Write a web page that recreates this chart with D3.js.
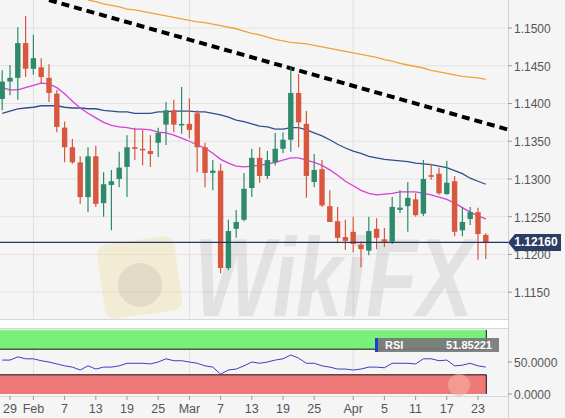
<!DOCTYPE html>
<html><head><meta charset="utf-8">
<script src="https://cdn.jsdelivr.net/npm/d3@7"></script>
<style>html,body{margin:0;padding:0;background:#f5f5f5;}svg{display:block;font-family:"Liberation Sans",Arial,sans-serif;}</style>
</head><body><svg id="c" width="565" height="418"></svg>
<script>
const dates = ["2019-01-28","2019-01-29","2019-01-30","2019-01-31",
"2019-02-01","2019-02-04","2019-02-05","2019-02-06","2019-02-07","2019-02-08","2019-02-11","2019-02-12","2019-02-13","2019-02-14","2019-02-15","2019-02-18","2019-02-19","2019-02-20","2019-02-21","2019-02-22","2019-02-25","2019-02-26","2019-02-27","2019-02-28",
"2019-03-01","2019-03-04","2019-03-05","2019-03-06","2019-03-07","2019-03-08","2019-03-11","2019-03-12","2019-03-13","2019-03-14","2019-03-15","2019-03-18","2019-03-19","2019-03-20","2019-03-21","2019-03-22","2019-03-25","2019-03-26","2019-03-27","2019-03-28","2019-03-29",
"2019-04-01","2019-04-02","2019-04-03","2019-04-04","2019-04-05","2019-04-08","2019-04-09","2019-04-10","2019-04-11","2019-04-12","2019-04-15","2019-04-16","2019-04-17","2019-04-18","2019-04-19","2019-04-22","2019-04-23","2019-04-24"];

const open = [1.1406,1.1429,1.1434,1.1480,1.1446,1.1448,1.1434,1.1413,1.1368,1.1342,
1.1322,1.1276,1.1330,1.1268,1.1292,1.1300,1.1316,1.1342,1.1340,1.1337,
1.1348,1.1372,1.1391,1.1372,1.1373,1.1387,1.1342,1.1308,1.1311,1.1182,
1.1234,1.1246,1.1288,1.1328,1.1304,1.1322,1.1340,1.1352,1.1414,1.1373,
1.1296,1.1313,1.1264,1.1244,1.1223,1.1230,1.1213,1.1205,1.1234,1.1220,
1.1217,1.1259,1.1264,1.1273,1.1254,1.1305,1.1307,1.1280,1.1297,1.1232,
1.1247,1.1256,1.1226];
const high = [1.1444,1.1451,1.1501,1.1516,1.1491,1.1460,1.1452,1.1418,1.1376,1.1353,
1.1330,1.1342,1.1344,1.1309,1.1312,1.1336,1.1358,1.1368,1.1365,1.1358,
1.1368,1.1402,1.1405,1.1422,1.1407,1.1391,1.1348,1.1325,1.1320,1.1246,
1.1259,1.1308,1.1340,1.1342,1.1337,1.1361,1.1362,1.1448,1.1439,1.1390,
1.1333,1.1325,1.1285,1.1263,1.1246,1.1250,1.1217,1.1250,1.1248,1.1235,
1.1276,1.1285,1.1296,1.1281,1.1325,1.1320,1.1315,1.1324,1.1304,1.1263,
1.1263,1.1262,1.1228];
const low = [1.1391,1.1411,1.1405,1.1435,1.1438,1.1426,1.1402,1.1362,1.1322,1.1320,
1.1267,1.1256,1.1263,1.1250,1.1232,1.1289,1.1276,1.1325,1.1318,1.1316,
1.1329,1.1345,1.1362,1.1360,1.1354,1.1309,1.1289,1.1285,1.1175,1.1179,
1.1222,1.1244,1.1276,1.1295,1.1300,1.1318,1.1334,1.1336,1.1342,1.1275,
1.1289,1.1263,1.1243,1.1215,1.1206,1.1203,1.1183,1.1199,1.1207,1.1210,
1.1214,1.1255,1.1230,1.1250,1.1251,1.1299,1.1279,1.1279,1.1224,1.1224,
1.1239,1.1193,1.1194];
const close = [1.1429,1.1434,1.1480,1.1446,1.1460,1.1435,1.1414,1.1369,1.1342,1.1322,
1.1276,1.1330,1.1267,1.1293,1.1297,1.1315,1.1342,1.1340,1.1338,1.1333,
1.1361,1.1391,1.1372,1.1373,1.1365,1.1342,1.1308,1.1311,1.1182,1.1231,
1.1243,1.1287,1.1328,1.1304,1.1325,1.1340,1.1352,1.1414,1.1375,1.1304,
1.1312,1.1265,1.1243,1.1222,1.1218,1.1214,1.1207,1.1231,1.1222,1.1217,
1.1263,1.1262,1.1275,1.1252,1.1300,1.1303,1.1281,1.1295,1.1230,1.1243,
1.1256,1.1227,1.1216];

const smaFast = [1.1421,1.1418,1.1418,1.1421,1.1424,1.1427,1.1426,1.1421,1.1413,1.1403,
1.1394,1.1387,1.1381,1.1375,1.1371,1.1369,1.1368,1.1366,1.1366,1.1365,
1.1362,1.1361,1.1358,1.1354,1.1350,1.1345,1.1341,1.1334,1.1326,1.1321,
1.1317,1.1316,1.1317,1.1318,1.1320,1.1322,1.1325,1.1328,1.1328,1.1325,
1.1322,1.1318,1.1312,1.1305,1.1297,1.1291,1.1285,1.1281,1.1279,1.1280,
1.1281,1.1283,1.1283,1.1283,1.1281,1.1279,1.1276,1.1273,1.1268,1.1262,
1.1256,1.1251,1.1247];
const smaMid = [1.1387,1.1390,1.1393,1.1394,1.1395,1.1397,1.1397,1.1397,1.1395,1.1394,
1.1394,1.1393,1.1393,1.1391,1.1390,1.1389,1.1389,1.1387,1.1387,1.1387,
1.1389,1.1389,1.1390,1.1390,1.1390,1.1389,1.1389,1.1387,1.1385,1.1382,
1.1378,1.1376,1.1373,1.1370,1.1369,1.1366,1.1366,1.1368,1.1368,1.1365,
1.1361,1.1357,1.1352,1.1346,1.1341,1.1337,1.1334,1.1330,1.1328,1.1326,
1.1325,1.1324,1.1323,1.1321,1.1320,1.1319,1.1317,1.1315,1.1311,1.1307,
1.1301,1.1297,1.1293];
const smaSlow = [null,null,null,null,null,null,null,null,null,null,
null,1.1537,1.1535,1.1532,1.1530,1.1528,1.1525,1.1524,1.1522,1.1520,
1.1518,1.1516,1.1514,1.1512,1.1510,1.1508,1.1507,1.1505,1.1503,1.1501,
1.1499,1.1496,1.1493,1.1491,1.1488,1.1485,1.1483,1.1481,1.1480,1.1479,
1.1477,1.1475,1.1473,1.1471,1.1469,1.1467,1.1465,1.1463,1.1461,1.1458,
1.1456,1.1453,1.1451,1.1449,1.1447,1.1444,1.1442,1.1440,1.1438,1.1436,
1.1435,1.1434,1.1432];

const rsi = [53,53,58,55,55,52,50,47,44,42,
37.5,44,39,42,42,44,48,48,48,47,
50,55,52,52,50,48,44,42,31,37.5,
39,44,50,48,50,53,55,61,56,48,
48,44,42,39,39,37.5,39,42,42,41,
48,48,48,47,55,55,52,53,44,45,
48,44,42];

const trendIndex = [6, 65];
const trendPrice = [1.1537, 1.1365];

const lastPrice = 1.12160;
const lastPriceLabel = "1.12160";
const rsiLabel = "RSI";
const rsiValueLabel = "51.85221";
const watermark = "WikiFX";

const priceTicks = [1.1150,1.1200,1.1250,1.1300,1.1350,1.1400,1.1450,1.1500];
const rsiTicks = [0, 50];
const xTickDates = ["2019-01-29","2019-02-01","2019-02-07","2019-02-13","2019-02-19","2019-02-25","2019-03-01","2019-03-07","2019-03-13","2019-03-19","2019-03-25","2019-04-01","2019-04-05","2019-04-11","2019-04-17","2019-04-23"];
const xTickLabels = ["29","Feb","7","13","19","25","Mar","7","13","19","25","Apr","5","11","17","23"];
const monthStarts = ["2019-02-01","2019-03-01","2019-04-01"];

const svg = d3.select("#c");
const W = 565, H = 418;
const plotR = 508, mainB = 319, rsiT = 328, rsiB = 396;

const x = d3.scaleLinear().domain([0, dates.length - 1]).range([2.2, 485.8]);
const y = d3.scaleLinear().domain([1.115, 1.15]).range([292.2, 28]);
const yr = d3.scaleLinear().domain([0, 100]).range([394, 330]);

const UP = "#2f8a6c", DN = "#d8573f";

svg.append("rect").attr("width", W).attr("height", H).attr("fill", "#f5f5f5");
const defs = svg.append("defs");
defs.append("clipPath").attr("id", "mc").append("rect").attr("x", 0).attr("y", 0).attr("width", plotR).attr("height", mainB);

const g = svg.append("g");
g.selectAll(".hg").data(priceTicks).join("line")
  .attr("x1", 0).attr("x2", plotR).attr("y1", d => y(d)).attr("y2", d => y(d))
  .attr("stroke", "#e3e3e3").attr("stroke-width", 1);
g.selectAll(".vg").data(monthStarts).join("line")
  .attr("x1", d => x(dates.indexOf(d))).attr("x2", d => x(dates.indexOf(d)))
  .attr("y1", 0).attr("y2", rsiB).attr("stroke", "#e0e0e0").attr("stroke-width", 1);

// watermark
const wm = svg.append("g");
wm.append("rect").attr("x", 101).attr("y", 240).attr("width", 78).attr("height", 75).attr("rx", 10)
  .attr("fill", "#f1dc9a").attr("opacity", 0.35).attr("transform", "rotate(-8,140,280)");
wm.append("circle").attr("cx", 140).attr("cy", 285).attr("r", 22).attr("fill", "#888").attr("opacity", 0.18);
wm.append("text").attr("transform", "translate(194,316) scale(1.5,2)").attr("font-size", 56).attr("font-weight", "bold")
  .attr("font-style", "italic").attr("fill", "#8a8a8a").attr("opacity", 0.17).text(watermark);

const main = svg.append("g").attr("clip-path", "url(#mc)");

const line = (arr, sc) => d3.line().defined(d => d != null).x((d, i) => x(i)).y(d => sc(d))(arr);
main.append("path").attr("d", line(smaSlow, y)).attr("fill", "none").attr("stroke", "#f0a33a").attr("stroke-width", 1.3);
main.append("path").attr("d", d3.line().x(d => x(d[0])).y(d => y(d[1]))(trendIndex.map((t, i) => [t, trendPrice[i]])))
  .attr("fill", "none").attr("stroke", "#000").attr("stroke-width", 4).attr("stroke-dasharray", "8,5");
main.append("path").attr("d", line(smaMid, y)).attr("fill", "none").attr("stroke", "#2f4f8c").attr("stroke-width", 1.3);
main.append("path").attr("d", line(smaFast, y)).attr("fill", "none").attr("stroke", "#d83fd8").attr("stroke-width", 1.3);

const cg = main.append("g");
dates.forEach((d, i) => {
  const col = close[i] >= open[i] ? UP : DN;
  cg.append("line").attr("x1", x(i)).attr("x2", x(i)).attr("y1", y(high[i])).attr("y2", y(low[i]))
    .attr("stroke", col).attr("stroke-width", 1.2);
  const top = y(Math.max(open[i], close[i])), bot = y(Math.min(open[i], close[i]));
  cg.append("rect").attr("x", x(i) - 2.7).attr("width", 5.4).attr("y", top).attr("height", Math.max(1.6, bot - top))
    .attr("fill", col);
});

main.append("line").attr("x1", 0).attr("x2", plotR).attr("y1", y(lastPrice)).attr("y2", y(lastPrice))
  .attr("stroke", "#27355f").attr("stroke-width", 1.3);

svg.append("line").attr("x1", plotR + 0.5).attr("x2", plotR + 0.5).attr("y1", 0).attr("y2", H).attr("stroke", "#d0d0d0");
svg.append("g").selectAll("g").data(priceTicks).join("g").each(function(d) {
  const s = d3.select(this);
  s.append("line").attr("x1", plotR).attr("x2", plotR + 4).attr("y1", y(d)).attr("y2", y(d)).attr("stroke", "#999");
  s.append("text").attr("x", plotR + 6).attr("y", y(d) + 5).attr("font-size", 12).attr("fill", "#555").text(d.toFixed(4));
});
const ty = y(lastPrice);
svg.append("path").attr("d", `M${plotR},${ty} L${plotR + 7},${ty - 8.5} L561,${ty - 8.5} L561,${ty + 8.5} L${plotR + 7},${ty + 8.5} Z`)
  .attr("fill", "#2b3d62");
svg.append("text").attr("x", 536).attr("y", ty + 3.5).attr("text-anchor", "middle").attr("font-size", 12)
  .attr("font-weight", "bold").attr("fill", "#fff").text(lastPriceLabel);

svg.append("line").attr("x1", 0).attr("x2", plotR).attr("y1", mainB + 0.5).attr("y2", mainB + 0.5).attr("stroke", "#d8d8d8");
svg.append("rect").attr("x", 0).attr("y", mainB + 1).attr("width", plotR).attr("height", rsiT - mainB - 1).attr("fill", "#ffffff");
svg.append("line").attr("x1", 0).attr("x2", plotR).attr("y1", rsiT + 0.5).attr("y2", rsiT + 0.5).attr("stroke", "#d8d8d8");

svg.append("rect").attr("x", 0).attr("y", rsiT + 1).attr("width", plotR).attr("height", rsiB - rsiT - 1).attr("fill", "#f5f5f5");
const bandR = x(dates.length - 1) + 0.5;
svg.append("rect").attr("x", 0).attr("y", yr(100)).attr("width", bandR).attr("height", yr(70) - yr(100)).attr("fill", "#79f079");
svg.append("rect").attr("x", 0).attr("y", yr(30)).attr("width", bandR).attr("height", yr(0) - yr(30)).attr("fill", "#ef7878");
svg.selectAll(".vg2").data(monthStarts).join("line")
  .attr("x1", d => x(dates.indexOf(d))).attr("x2", d => x(dates.indexOf(d)))
  .attr("y1", yr(70)).attr("y2", yr(30)).attr("stroke", "#e0e0e0");
svg.append("line").attr("x1", 0).attr("x2", bandR).attr("y1", yr(100)).attr("y2", yr(100)).attr("stroke", "#a8f5a8").attr("stroke-width", 1);
[70, 30].forEach(v => svg.append("line").attr("x1", 0).attr("x2", bandR).attr("y1", yr(v)).attr("y2", yr(v)).attr("stroke", "#111").attr("stroke-width", 1));
svg.append("line").attr("x1", bandR).attr("x2", bandR).attr("y1", yr(100)).attr("y2", yr(70)).attr("stroke", "#111");
svg.append("line").attr("x1", bandR).attr("x2", bandR).attr("y1", yr(30)).attr("y2", yr(0)).attr("stroke", "#111");
svg.append("circle").attr("cx", 459).attr("cy", 385).attr("r", 11).attr("fill", "#f6b0a0").attr("opacity", 0.6);
svg.append("path").attr("d", line(rsi, yr)).attr("fill", "none").attr("stroke", "#3a3fc0").attr("stroke-width", 1);

svg.append("rect").attr("x", 375).attr("y", 338).attr("width", 124).attr("height", 14).attr("fill", "#777").attr("opacity", 0.92);
svg.append("rect").attr("x", 375).attr("y", 338).attr("width", 3).attr("height", 14).attr("fill", "#1f3fd0");
svg.append("text").attr("x", 385).attr("y", 349).attr("font-size", 11).attr("font-weight", "bold").attr("fill", "#fff").text(rsiLabel);
svg.append("text").attr("x", 492).attr("y", 349).attr("text-anchor", "end").attr("font-size", 11).attr("font-weight", "bold").attr("fill", "#fff").text(rsiValueLabel);

svg.append("g").selectAll("g").data(rsiTicks).join("g").each(function(d) {
  const s = d3.select(this);
  s.append("line").attr("x1", plotR).attr("x2", plotR + 4).attr("y1", yr(d)).attr("y2", yr(d)).attr("stroke", "#999");
  s.append("text").attr("x", plotR + 6).attr("y", yr(d) + 4.5).attr("font-size", 12).attr("fill", "#555").text(d.toFixed(4));
});
svg.append("line").attr("x1", 0).attr("x2", plotR).attr("y1", rsiB + 0.5).attr("y2", rsiB + 0.5).attr("stroke", "#d8d8d8");

svg.append("g").selectAll("g").data(xTickDates).join("g").each(function(d, k) {
  const s = d3.select(this), xi = x(dates.indexOf(d));
  s.append("line").attr("x1", xi).attr("x2", xi).attr("y1", rsiB).attr("y2", rsiB + 4).attr("stroke", "#999");
  s.append("text").attr("x", xi).attr("y", 413).attr("text-anchor", "middle").attr("font-size", 12.5).attr("fill", "#555").text(xTickLabels[k]);
});
</script></body></html>
